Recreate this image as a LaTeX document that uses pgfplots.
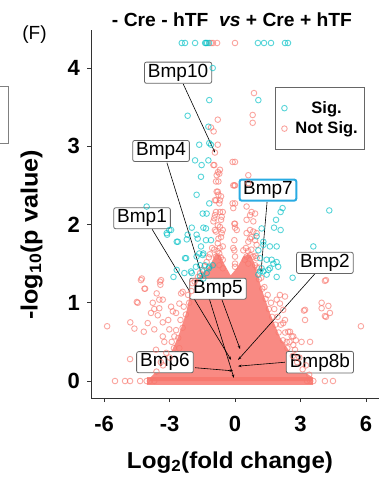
\documentclass[border=0pt]{standalone}
\usepackage{fontspec}
\setmainfont{Liberation Sans}
\usepackage{graphicx}
\usepackage{pgfplots}
\pgfplotsset{compat=1.18}
\usetikzlibrary{arrows.meta}
\definecolor{sig}{HTML}{00BFC4}
\definecolor{nsig}{HTML}{F8766D}
\definecolor{bmpblue}{HTML}{29ABE2}
\definecolor{axgray}{HTML}{333333}
\begin{document}
\begin{tikzpicture}[x=1pt,y=1pt]
\useasboundingbox (0,0) rectangle (379,477);
\draw[gray, line width=0.8pt] (-10,391) -- (8,391) -- (8,334) -- (-10,334);
\node[font=\fontsize{19}{22}\selectfont] at (34.5,442) {(F)};
\node[anchor=base, inner sep=0pt, font=\fontsize{19}{22}\selectfont\bfseries] at (232,450) {\resizebox{240pt}{\height}{- Cre - hTF\ \ \textit{vs} + Cre + hTF}};
\node[anchor=base, inner sep=0pt, font=\fontsize{23}{27}\selectfont\bfseries] at (230,9) {\resizebox{206pt}{\height}{Log\textsubscript{2}(fold change)}};
\node[anchor=base, inner sep=0pt, rotate=90, font=\fontsize{23.5}{27}\selectfont\bfseries] at (37.5,242) {\resizebox{170pt}{\height}{-log\textsubscript{10}(p value)}};
\begin{axis}[
  at={(91pt,79pt)}, anchor=south west,
  width=288pt, height=368pt, scale only axis,
  xmin=-6.6, xmax=6.6, ymin=-0.217, ymax=4.486,
  axis x line*=bottom, axis y line*=left,
  axis line style={axgray, line width=0.8pt},
  xtick={-6,-3,0,3,6}, ytick={0,1,2,3,4},
  tick align=outside, major tick length=4pt,
  tick style={axgray, line width=0.8pt},
  /pgf/number format/assume math mode=true,
  ticklabel style={font=\fontsize{22}{26}\selectfont\bfseries, inner sep=0pt},
  xticklabel style={anchor=north, yshift=-14pt},
  yticklabel style={anchor=east, xshift=-7pt},
  reverse legend,
  legend style={at={(0.639,0.845)}, anchor=north west, draw=gray!80!black, line width=0.8pt,
    font=\fontsize{16.5}{19}\selectfont\bfseries, inner xsep=6pt, inner ysep=12pt, row sep=3pt,
    nodes={inner xsep=1pt, inner ysep=2pt}},
  legend image code/.code={\path[draw=none,fill=none] (0pt,-3pt) rectangle (13pt,3pt); \draw[#1] plot coordinates {(3pt,0pt)};},
]
% dense core of not significant genes
\addplot[draw=none, fill=nsig, fill opacity=0.85, forget plot] coordinates {
(-3.9,0.04) (-3.53,0.14) (-3.02,0.31) (-2.61,0.56) (-2.24,0.87) (-2.02,1.16) (-1.83,1.29)
(-1.37,1.40) (-1.1,1.50) (-0.9,1.62) (-0.7,1.62) (-0.5,1.50) (-0.2,1.35) (0.1,1.45)
(0.4,1.60) (0.7,1.62) (0.9,1.50) (1.01,1.38) (1.24,1.16) (1.60,0.87) (2.06,0.56)
(2.66,0.31) (3.07,0.14) (3.53,0.05) (3.53,0) (-3.9,0)} -- cycle;
\addplot[draw=none, fill=nsig, fill opacity=0.85, forget plot] coordinates {
(-4.03,-0.048) (3.57,-0.048) (3.57,0.048) (-4.03,0.048)} -- cycle;
% not significant
\addplot[only marks, mark=o, mark size=2.8pt, nsig, draw opacity=0.65, line width=0.9pt] coordinates {
(-1.01,4.32) (-0.82,4.32) (-1.10,4.32) (0.0,4.32)
(-0.79,3.34) (-1.1,3.24) (-0.98,3.19) (-0.79,3.02) (-0.92,2.92) (0.87,3.68) (0.81,3.40) (0.81,3.30)
(-0.99,2.76) (-0.78,2.67) (-0.69,2.70) (-0.84,2.63) (0.0,2.80) (0.61,2.63) (-0.76,2.55) (-0.08,2.50)
(-0.84,2.42) (-0.76,2.38) (-0.92,2.31) (-0.69,2.31) (0,2.27) (-0.08,2.21) (0.53,2.23) (0.76,2.16) (0.92,2.14)
(-0.69,2.16) (-0.92,2.12) (-0.61,2.10) (0,2.01) (0,1.96) (0.08,1.93)
(-0.99,2.04) (-0.69,1.97) (-0.92,1.93) (-0.61,1.89) (-0.76,1.82)
(0.53,1.89) (0.76,1.84) (0.61,1.78) (0.99,1.74) (4.12,1.28)
(-4.27,1.31) (-4.12,1.18) (-3.44,1.27) (-3.59,1.12) (-4.5,1.01)
(-4.31,1.29) (-4.15,1.18) (-3.39,1.29) (-3.42,1.23) (-4.46,1.00) (-3.77,1.00) (-3.47,1.04) (-3.31,1.04)
(-3.70,0.92) (-3.47,0.93) (-3.85,0.87) (-2.85,0.89) (-2.70,0.87) (-2.47,1.12) (-2.40,1.14) (-2.55,0.99)
(-2.93,0.95) (-5.86,0.70) (-4.80,0.75) (-4.61,0.67) (-4.18,0.63) (-3.70,0.66) (-3.31,0.75) (-3.06,0.78)
(-3.31,0.57) (-3.24,0.50) (-2.55,0.42) (-4.81,0.28) (-3.62,0.40) (-2.78,0.57) (-3.01,0.66) (-3.54,0.84)
(-4.0,0.74)
(5.77,0.70) (3.97,0.93) (4.35,0.87) (4.12,0.83) (3.21,0.78) (3.21,0.91) (3.44,0.50) (3.05,0.50)
(2.37,0.50) (2.67,0.57) (2.52,0.63)
(-5.50,0) (-5.04,0) (-4.81,0) (-4.35,0) (-4.05,0) (4.12,0) (4.49,0) (3.59,0)
(4.17,1.29) (3.97,1.00) (4.28,0.96) (4.17,0.82) (3.16,0.90) (2.67,0.46) (2.79,0.52)
(2.44,0.63) (2.60,0.57) (2.21,0.74) (2.29,0.78) (2.06,0.99) (2.21,0.91) (2.06,1.10) (1.91,1.04) (2.29,1.08)
(0.61,2.53) (0,2.5) (0.69,2.12) (0.53,2.06) (0.84,2.04) (0.69,1.93) (0.84,1.91) (0.99,1.89)
(0.69,1.82) (0.92,1.80) (-0.08,1.70) (0,1.59) (0,1.50) (0,1.46)
(0.38,1.67) (0.53,1.59) (0.69,1.61) (0.84,1.59) (0.99,1.57) (0.61,1.50) (0.92,1.48)
(-0.95,2.76) (-0.72,2.65) (-0.87,2.55) (-0.79,2.42) (-0.64,2.36) (-0.87,2.31) (-0.72,2.27)
(-0.87,2.16) (-0.56,2.16) (-0.95,2.08) (-0.64,2.06) (-0.79,1.99) (-0.56,1.93) (-0.87,1.91)
(-0.64,1.84) (-0.79,1.76) (-0.56,1.72) (-0.72,1.63) (-0.87,1.59) (-0.56,1.55) (-0.72,1.48) (-0.56,1.44)
(-0.11,2.80) (-0.03,2.50) (-0.11,2.27) (-0.03,2.01) (-0.03,1.80) (-0.03,1.67)
(-0.7,1.70) (-0.8,1.66) (-0.65,1.58) (0.5,1.70) (0.6,1.66) (0.75,1.68) (0.45,1.55) (-0.95,1.68)
(-3.6,0.12) (-3.3,0.2) (-3.0,0.3) (-2.8,0.42) (-2.6,0.55) (-2.4,0.68) (-2.25,0.85) (-2.1,1.0)
(-2.0,1.15) (-1.85,1.27) (-1.6,1.38) (-1.4,1.47) (-1.2,1.58) (-1.05,1.7)
(-3.4,0.24) (-3.15,0.36) (-2.9,0.5) (-2.7,0.65) (-2.5,0.78) (-2.35,0.95) (-2.15,1.1) (-1.95,1.25)
(-1.7,1.33) (-1.5,1.42) (-1.3,1.52) (-1.15,1.62)
(3.4,0.08) (3.1,0.15) (2.85,0.24) (2.65,0.32) (2.4,0.42) (2.2,0.52) (2.0,0.62) (1.85,0.72)
(1.7,0.82) (1.55,0.92) (1.4,1.05) (1.25,1.18) (1.1,1.3) (1.0,1.45) (0.95,1.6)
(3.25,0.2) (2.95,0.3) (2.75,0.4) (2.5,0.5) (2.3,0.62) (2.1,0.72) (1.95,0.82) (1.8,0.92)
(1.65,1.0) (1.5,1.1) (1.35,1.2) (1.2,1.32) (1.1,1.45)
(-3.9,0) (-3.7,0) (3.45,0) (3.3,0)
};
\addlegendentry{Not Sig.}
% significant
\addplot[only marks, mark=o, mark size=2.8pt, sig, draw opacity=0.65, line width=0.9pt] coordinates {
(-2.44,4.32) (-2.29,4.32) (-1.83,4.32) (-1.37,4.32) (-1.28,4.32) (-1.19,4.32) (-1.33,4.32)
(1.05,4.32) (1.33,4.32) (1.65,4.32) (2.29,4.32) (2.43,4.32)
(-1.02,4.0) (-1.18,3.59) (-2.17,3.39) (-1.22,3.25) (-1.64,3.02) (-1.18,3.04) (-1.10,3.02) (1.07,3.59)
(-1.83,2.82) (-1.53,2.76) (-1.22,2.82) (-1.56,2.61) (-1.76,2.38) (-1.18,2.27) (-1.48,2.14) (-1.30,2.14)
(2.18,2.21) (2.09,2.16) (1.88,2.06) (2.09,1.93) (1.79,1.96) (4.32,2.18) (-4.05,2.23)
(-1.45,1.96) (-1.98,1.96) (-2.21,1.81) (-1.76,1.87) (-3.13,1.89) (-2.67,1.78) (-3.01,1.93)
(1.22,1.95) (0.99,1.85) (1.30,1.78) (1.07,1.67) (1.91,1.72) (3.59,1.72)
(-1.45,1.63) (-1.76,1.59) (-2.29,1.57) (-1.98,1.38) (-2.82,1.33) (-2.67,1.42)
(-1.6,1.48) (-1.37,1.48) (-1.2,1.44) (-1.3,1.38) (-1.6,1.34) (-1.45,1.31)
(1.15,1.57) (1.45,1.55) (1.76,1.50) (1.60,1.44) (1.91,1.33) (1.30,1.40) (1.07,1.36) (2.64,1.32)
(1.30,1.74) (1.60,1.72) (1.68,1.55) (1.98,1.46) (1.22,1.44) (1.53,1.42) (1.91,1.52)
(-2.93,1.93) (-3.11,1.87) (-2.62,1.78) (-2.24,1.57) (-2.17,1.87) (-1.71,1.82) (-1.56,1.72)
(-1.64,1.63) (-1.33,1.80) (-1.33,1.95) (-1.10,1.80) (-1.48,1.61) (-1.18,1.46) (-1.02,1.48)
(-1.79,1.46) (-2.02,1.40) (-2.32,1.38) (-1.48,1.40) (1.15,1.40) (1.45,1.36)
};
\addlegendentry{Sig.}
% connectors
\begin{scope}[line width=0.6pt, -{Stealth[length=3.5pt,width=2.5pt]}]
\draw (axis cs:-2.38,3.80) -- (axis cs:-0.92,2.92);
\draw (axis cs:-3.12,2.79) -- (axis cs:-0.05,0.04);
\draw (axis cs:-3.80,1.94) -- (axis cs:-0.18,0.27);
\draw (axis cs:-0.60,1.04) -- (axis cs:0.23,0.41);
\draw (axis cs:1.47,2.29) -- (axis cs:1.19,1.39);
\draw (axis cs:3.66,1.37) -- (axis cs:0.14,0.27);
\draw (axis cs:2.29,0.24) -- (axis cs:0.14,0.19);
\draw (axis cs:-1.83,0.17) -- (axis cs:-0.09,0.13);
\end{scope}
\tikzset{lab/.style={draw=gray!80!black, line width=0.8pt, fill=white, rounded corners=2pt,
  inner xsep=3.5pt, inner ysep=2pt, font=\fontsize{19}{22}\selectfont}}
\node[lab] at (axis cs:-2.61,3.94) {Bmp10};
\node[lab] at (axis cs:-3.39,2.94) {Bmp4};
\node[lab] at (axis cs:-4.26,2.08) {Bmp1};
\node[lab] at (axis cs:-0.78,1.18) {Bmp5};
\node[lab, draw=bmpblue, line width=2pt] at (axis cs:1.51,2.44) {Bmp7};
\node[lab] at (axis cs:4.12,1.51) {Bmp2};
\node[lab] at (axis cs:-3.21,0.24) {Bmp6};
\node[lab] at (axis cs:3.89,0.24) {Bmp8b};
\end{axis}
\end{tikzpicture}
\end{document}
